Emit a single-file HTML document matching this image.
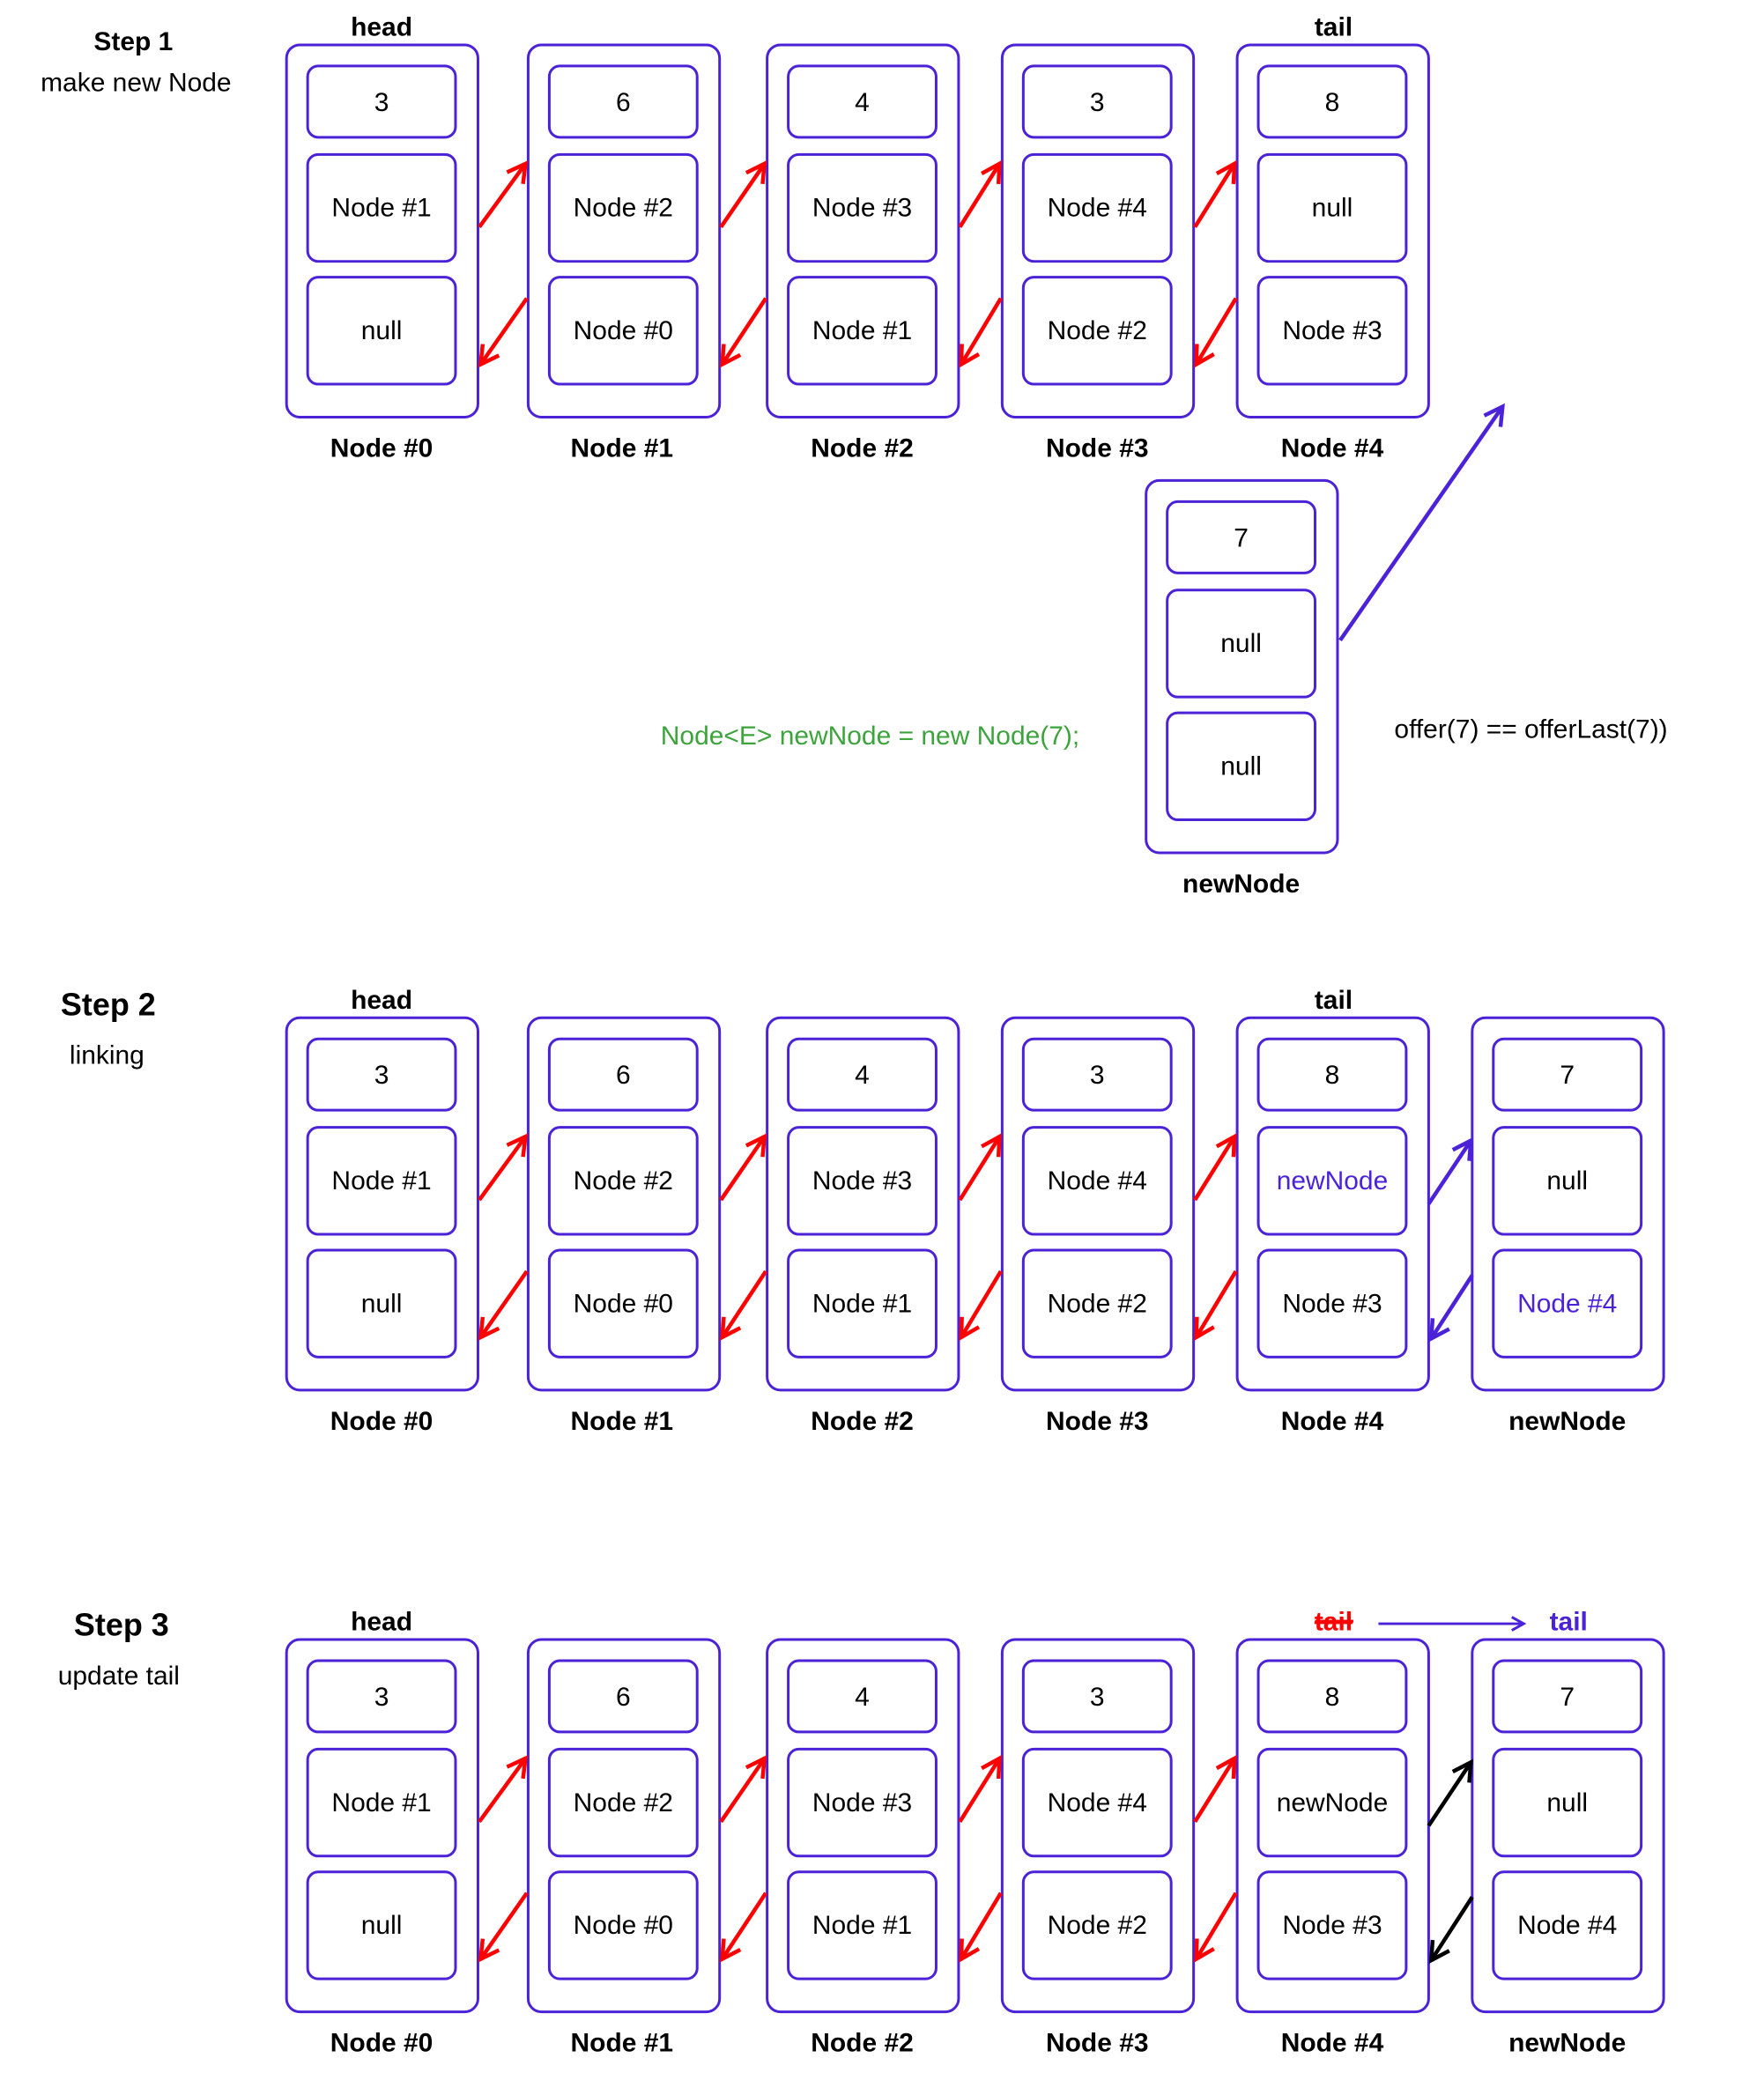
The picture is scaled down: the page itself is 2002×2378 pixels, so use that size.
<!DOCTYPE html>
<html><head><meta charset="utf-8"><style>
html,body{margin:0;padding:0;background:#fff}
svg{display:block}
text{font-family:"Liberation Sans",sans-serif}
.v{font-size:20px;text-anchor:middle;fill:#000}
.b{font-size:20px;font-weight:bold;text-anchor:middle;fill:#000}
.p{fill:#4B22D8}
</style></head><body>
<svg width="2002" height="2378" viewBox="0 0 1336 1587" preserveAspectRatio="none" xmlns="http://www.w3.org/2000/svg">
<defs>
<g id="fr" fill="none" stroke="#4B22D8" stroke-width="2">
<rect x="0" y="0" width="145" height="282" rx="10"/>
<rect x="16" y="16" width="112" height="54" rx="8"/>
<rect x="16" y="83" width="112" height="81" rx="8"/>
<rect x="16" y="176" width="112" height="81" rx="8"/>
</g>
<marker id="mr" viewBox="0 0 12 12" refX="10" refY="6" markerWidth="6" markerHeight="6" orient="auto" markerUnits="strokeWidth"><path d="M1,1 L10,6 L1,11" fill="none" stroke="#f00" stroke-width="2"/></marker>
<marker id="mp" viewBox="0 0 12 12" refX="10" refY="6" markerWidth="6" markerHeight="6" orient="auto" markerUnits="strokeWidth"><path d="M1,1 L10,6 L1,11" fill="none" stroke="#4B22D8" stroke-width="2"/></marker>
<marker id="mk" viewBox="0 0 12 12" refX="10" refY="6" markerWidth="6" markerHeight="6" orient="auto" markerUnits="strokeWidth"><path d="M1,1 L10,6 L1,11" fill="none" stroke="#000" stroke-width="2"/></marker>
<g id="ra" stroke="#f00" stroke-width="3" fill="none">
<line x1="363" y1="172" x2="398" y2="124" marker-end="url(#mr)"/>
<line x1="399" y1="226" x2="364" y2="276" marker-end="url(#mr)"/>
<line x1="546" y1="172" x2="579" y2="124" marker-end="url(#mr)"/>
<line x1="580" y1="226" x2="547" y2="276" marker-end="url(#mr)"/>
<line x1="727" y1="172" x2="757" y2="124" marker-end="url(#mr)"/>
<line x1="758" y1="226" x2="728" y2="276" marker-end="url(#mr)"/>
<line x1="905" y1="172" x2="935" y2="124" marker-end="url(#mr)"/>
<line x1="936" y1="226" x2="906" y2="276" marker-end="url(#mr)"/>
</g>
</defs>

<!-- STEP 1 -->
<text x="101" y="38" class="b">Step 1</text>
<text x="103" y="69" class="v">make new Node</text>
<text x="289" y="27" class="b">head</text>
<text x="1010" y="27" class="b">tail</text>
<use href="#fr" x="217" y="34"/><use href="#fr" x="400" y="34"/><use href="#fr" x="581" y="34"/><use href="#fr" x="759" y="34"/><use href="#fr" x="937" y="34"/>
<use href="#ra" y="0"/>
<g class="v">
<text x="289" y="84" class="v">3</text><text x="289" y="164" class="v">Node #1</text><text x="289" y="257" class="v">null</text>
<text x="472" y="84" class="v">6</text><text x="472" y="164" class="v">Node #2</text><text x="472" y="257" class="v">Node #0</text>
<text x="653" y="84" class="v">4</text><text x="653" y="164" class="v">Node #3</text><text x="653" y="257" class="v">Node #1</text>
<text x="831" y="84" class="v">3</text><text x="831" y="164" class="v">Node #4</text><text x="831" y="257" class="v">Node #2</text>
<text x="1009" y="84" class="v">8</text><text x="1009" y="164" class="v">null</text><text x="1009" y="257" class="v">Node #3</text>
</g>
<text x="289" y="346" class="b">Node #0</text><text x="471" y="346" class="b">Node #1</text><text x="653" y="346" class="b">Node #2</text><text x="831" y="346" class="b">Node #3</text><text x="1009" y="346" class="b">Node #4</text>
<use href="#fr" x="868" y="364"/>
<text x="940" y="414" class="v">7</text><text x="940" y="494" class="v">null</text><text x="940" y="587" class="v">null</text>
<text x="940" y="676" class="b">newNode</text>
<line x1="1015" y1="485" x2="1138" y2="308" stroke="#4B22D8" stroke-width="3" marker-end="url(#mp)"/>
<text x="659" y="564" class="v" style="fill:#3DA33D">Node&lt;E&gt; newNode = new Node(7);</text>
<text x="1056" y="559" style="font-size:20px;fill:#000">offer(7) == offerLast(7))</text>

<!-- STEP 2 -->
<text x="82" y="769" class="b" style="font-size:24px">Step 2</text>
<text x="81" y="806" class="v">linking</text>
<text x="289" y="764" class="b">head</text>
<text x="1010" y="764" class="b">tail</text>
<use href="#fr" x="217" y="771"/><use href="#fr" x="400" y="771"/><use href="#fr" x="581" y="771"/><use href="#fr" x="759" y="771"/><use href="#fr" x="937" y="771"/><use href="#fr" x="1115" y="771"/>
<use href="#ra" y="737"/>
<text x="289" y="821" class="v">3</text><text x="289" y="901" class="v">Node #1</text><text x="289" y="994" class="v">null</text>
<text x="472" y="821" class="v">6</text><text x="472" y="901" class="v">Node #2</text><text x="472" y="994" class="v">Node #0</text>
<text x="653" y="821" class="v">4</text><text x="653" y="901" class="v">Node #3</text><text x="653" y="994" class="v">Node #1</text>
<text x="831" y="821" class="v">3</text><text x="831" y="901" class="v">Node #4</text><text x="831" y="994" class="v">Node #2</text>
<text x="1009" y="821" class="v">8</text><text x="1009" y="901" class="v p">newNode</text><text x="1009" y="994" class="v">Node #3</text>
<text x="1187" y="821" class="v">7</text><text x="1187" y="901" class="v">null</text><text x="1187" y="994" class="v p">Node #4</text>
<line x1="1082" y1="912" x2="1114" y2="864" stroke="#4B22D8" stroke-width="3" marker-end="url(#mp)"/>
<line x1="1115" y1="966" x2="1084" y2="1014" stroke="#4B22D8" stroke-width="3" marker-end="url(#mp)"/>
<text x="289" y="1083" class="b">Node #0</text><text x="471" y="1083" class="b">Node #1</text><text x="653" y="1083" class="b">Node #2</text><text x="831" y="1083" class="b">Node #3</text><text x="1009" y="1083" class="b">Node #4</text><text x="1187" y="1083" class="b">newNode</text>

<!-- STEP 3 -->
<text x="92" y="1239" class="b" style="font-size:24px">Step 3</text>
<text x="90" y="1276" class="v">update tail</text>
<text x="289" y="1235" class="b">head</text>
<text x="1010" y="1235" class="b" style="fill:#f00;text-decoration:line-through">tail</text>
<line x1="996" y1="1228" x2="1025" y2="1228" stroke="#f00" stroke-width="2"/>
<line x1="1044" y1="1230" x2="1154" y2="1230" stroke="#4B22D8" stroke-width="2" marker-end="url(#mp)"/>
<text x="1188" y="1235" class="b p">tail</text>
<use href="#fr" x="217" y="1242"/><use href="#fr" x="400" y="1242"/><use href="#fr" x="581" y="1242"/><use href="#fr" x="759" y="1242"/><use href="#fr" x="937" y="1242"/><use href="#fr" x="1115" y="1242"/>
<use href="#ra" y="1208"/>
<text x="289" y="1292" class="v">3</text><text x="289" y="1372" class="v">Node #1</text><text x="289" y="1465" class="v">null</text>
<text x="472" y="1292" class="v">6</text><text x="472" y="1372" class="v">Node #2</text><text x="472" y="1465" class="v">Node #0</text>
<text x="653" y="1292" class="v">4</text><text x="653" y="1372" class="v">Node #3</text><text x="653" y="1465" class="v">Node #1</text>
<text x="831" y="1292" class="v">3</text><text x="831" y="1372" class="v">Node #4</text><text x="831" y="1465" class="v">Node #2</text>
<text x="1009" y="1292" class="v">8</text><text x="1009" y="1372" class="v">newNode</text><text x="1009" y="1465" class="v">Node #3</text>
<text x="1187" y="1292" class="v">7</text><text x="1187" y="1372" class="v">null</text><text x="1187" y="1465" class="v">Node #4</text>
<line x1="1082" y1="1383" x2="1114" y2="1335" stroke="#000" stroke-width="3" marker-end="url(#mk)"/>
<line x1="1115" y1="1437" x2="1084" y2="1485" stroke="#000" stroke-width="3" marker-end="url(#mk)"/>
<text x="289" y="1554" class="b">Node #0</text><text x="471" y="1554" class="b">Node #1</text><text x="653" y="1554" class="b">Node #2</text><text x="831" y="1554" class="b">Node #3</text><text x="1009" y="1554" class="b">Node #4</text><text x="1187" y="1554" class="b">newNode</text>
</svg>
</body></html>
